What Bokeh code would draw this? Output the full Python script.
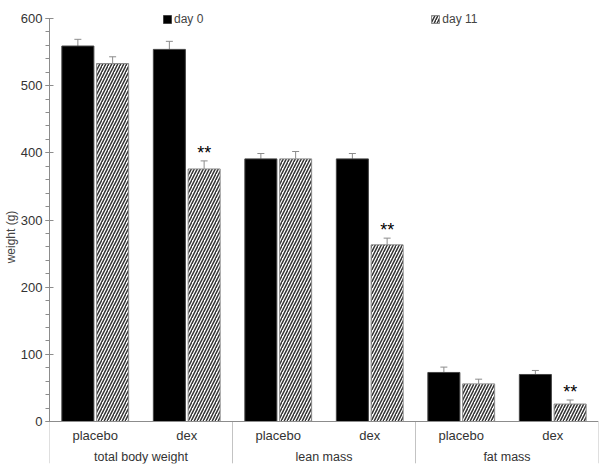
from bokeh.plotting import figure
from bokeh.models import (FactorRange, ColumnDataSource, Whisker, TeeHead, Legend,
                          LegendItem, SingleIntervalTicker, BoxAnnotation, Span)
from bokeh.transform import dodge
from bokeh.embed import file_html
from bokeh.resources import INLINE
from bokeh.core.properties import value

groups = ["total body weight", "lean mass", "fat mass"]
treatments = ["placebo", "dex"]
day0 = [559, 554, 391, 391, 73, 70]
day0_err = [10, 12, 8, 8, 8, 6]
day11 = [533, 376, 391, 263, 56, 26]
day11_err = [10, 12, 11, 10, 7, 6]
day11_sig = ["", "**", "", "**", "", "**"]
y_max = 600

factors = [(g, t) for g in groups for t in treatments]

src = ColumnDataSource(dict(
    x=factors,
    d0=day0, d0_top=[v + e for v, e in zip(day0, day0_err)],
    d11=day11, d11_top=[v + e for v, e in zip(day11, day11_err)],
    sig=day11_sig,
))
sub_src = ColumnDataSource(dict(x=factors, label=[t for g in groups for t in treatments],
                                y=[0] * len(factors)))
grp_src = ColumnDataSource(dict(x=groups, label=groups, y=[0] * len(groups)))

FONT = "Liberation Sans"
GRAY = "#8c8c8c"
TXT = "#333333"

# frame spans 10..463 px; value axis 0..600 occupies 18..421 px
px_per_unit = 403 / y_max
p = figure(width=600, height=469, output_backend="svg", toolbar_location=None,
           x_range=FactorRange(*factors, group_padding=0, factor_padding=0, range_padding=0),
           y_range=(-42 / px_per_unit, y_max + 8 / px_per_unit),
           min_border_left=48, min_border_right=2, min_border_top=10, min_border_bottom=6)
p.outline_line_color = None
p.xgrid.visible = False
p.ygrid.visible = False
p.xaxis.visible = False

off = 0.19
r0 = p.vbar(x=dodge("x", -off, range=p.x_range), top="d0", width=0.35, source=src,
            fill_color="black", line_color="#444444", line_width=1)
r11 = p.vbar(x=dodge("x", off, range=p.x_range), top="d11", width=0.35, source=src,
             fill_color="white", line_color=GRAY, line_width=1,
             hatch_pattern="/", hatch_color="#333333", hatch_scale=6, hatch_weight=1.5)

for key, o in (("d0", -off), ("d11", off)):
    w = Whisker(base=dodge("x", o, range=p.x_range), upper=key + "_top", lower=key,
                source=src, line_color=GRAY, line_width=1,
                upper_head=TeeHead(size=7, line_color=GRAY, line_width=1), lower_head=None)
    p.add_layout(w)

p.text(x=dodge("x", off, range=p.x_range), y="d11_top", text="sig", source=src,
       text_font=value(FONT), text_font_size="18px", text_font_style="normal",
       text_align="center", text_baseline="middle", y_offset=-8, text_color="black")

# category axis: baseline, group separators and end lines, labels
p.add_layout(Span(location=0, dimension="width", line_color=GRAY, line_width=1))
for i in range(len(groups) + 1):
    edge = i * len(treatments)
    p.add_layout(BoxAnnotation(left=edge, right=edge, top=0, fill_alpha=0,
                               line_color=GRAY, line_width=1))
p.text(x="x", y="y", text="label", source=sub_src, y_offset=14,
       text_font=value(FONT), text_font_size="13px", text_color=TXT,
       text_align="center", text_baseline="middle")
p.text(x="x", y="y", text="label", source=grp_src, y_offset=35,
       text_font=value(FONT), text_font_size="12.5px", text_color=TXT,
       text_align="center", text_baseline="middle")

# y axis
ya = p.yaxis[0]
ya.bounds = (0, y_max)
ya.ticker = SingleIntervalTicker(interval=100, num_minor_ticks=5)
ya.axis_label = "weight (g)"
ya.axis_label_text_font = FONT
ya.axis_label_text_font_size = "12px"
ya.axis_label_text_font_style = "normal"
ya.axis_label_standoff = 0
ya.major_label_text_font = FONT
ya.major_label_text_font_size = "13px"
ya.major_label_text_color = TXT
ya.major_label_standoff = 3
ya.axis_line_color = GRAY
ya.major_tick_line_color = GRAY
ya.minor_tick_line_color = GRAY
ya.major_tick_in = 4
ya.major_tick_out = 4
ya.minor_tick_in = 0
ya.minor_tick_out = 4

legend = Legend(items=[LegendItem(label="day 0", renderers=[r0]),
                       LegendItem(label="day 11", renderers=[r11])],
                orientation="horizontal", location=(113, 437),
                spacing=227, padding=0, margin=0, label_standoff=2,
                glyph_width=10, glyph_height=10, label_height=12,
                label_text_font=FONT, label_text_font_size="12px",
                border_line_color=None, background_fill_alpha=0)
p.add_layout(legend)

open("out.html", "w").write(file_html(p, INLINE))
